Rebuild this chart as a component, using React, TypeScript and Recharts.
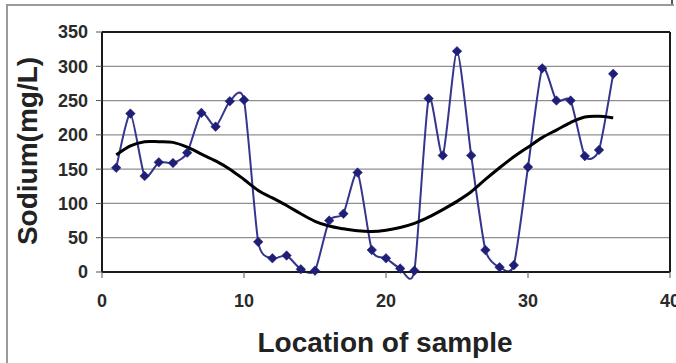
import React from "react";
import {
  LineChart,
  Line,
  XAxis,
  YAxis,
  CartesianGrid,
  ReferenceLine,
} from "recharts";

const locations = [
  1, 2, 3, 4, 5, 6, 7, 8, 9, 10, 11, 12, 13, 14, 15, 16, 17, 18, 19, 20, 21, 22,
  23, 24, 25, 26, 27, 28, 29, 30, 31, 32, 33, 34, 35, 36,
];
const sodium = [
  152, 231, 140, 160, 159, 174, 232, 212, 249, 251, 44, 20, 24, 4, 2, 75, 85,
  145, 32, 20, 5, 2, 253, 170, 322, 170, 32, 7, 10, 153, 297, 250, 250, 169,
  178, 289,
];
const trend = [
  171, 184, 190, 190, 189, 182, 172, 162, 150, 135, 119, 108, 97, 85, 74, 67,
  63, 60, 59, 61, 65, 71, 80, 91, 103, 117, 135, 152, 168, 182, 196, 207, 218,
  226, 227, 225,
];
const xTicks = [0, 10, 20, 30, 40];
const yTicks = [0, 50, 100, 150, 200, 250, 300, 350];

const data = locations.map((x, i) => ({ x, sodium: sodium[i], trend: trend[i] }));

// Excel-like smoothed line (reduced-tension Catmull-Rom as cubic Bezier)
const makeSmooth = (k: number): any => (context: any) => {
  let pts: number[][] = [];
  return {
    areaStart() {},
    areaEnd() {},
    lineStart() {
      pts = [];
    },
    point(x: number, y: number) {
      pts.push([+x, +y]);
    },
    lineEnd() {
      if (!pts.length) return;
      context.moveTo(pts[0][0], pts[0][1]);
      for (let i = 0; i < pts.length - 1; i++) {
        const p0 = pts[i - 1] || pts[i];
        const p1 = pts[i];
        const p2 = pts[i + 1];
        const p3 = pts[i + 2] || p2;
        const c1x = p1[0] + (p2[0] - p0[0]) * k;
        const c1y = p1[1] + (p2[1] - p0[1]) * k;
        const c2x = p2[0] - (p3[0] - p1[0]) * k;
        const c2y = p2[1] - (p3[1] - p1[1]) * k;
        context.bezierCurveTo(c1x, c1y, c2x, c2y, p2[0], p2[1]);
      }
    },
  };
};
const dataCurve = makeSmooth(1 / 9);
const trendCurve = makeSmooth(1 / 6);

const Diamond = (props: any) => {
  const { cx, cy } = props;
  if (cx == null || cy == null) return null;
  const r = 4.8;
  return (
    <polygon
      points={`${cx},${cy - r} ${cx + r},${cy} ${cx},${cy + r} ${cx - r},${cy}`}
      fill="#1f1f78"
      stroke="#1f1f78"
      strokeWidth={0.5}
    />
  );
};

const tickStyle = {
  fontFamily: "'Liberation Sans', Arial, sans-serif",
  fontWeight: 700,
  fontSize: 18,
  fill: "#2a2a2a",
};

export default function App() {
  return (
    <div
      style={{
        position: "fixed",
        left: 0,
        top: 0,
        width: 676,
        height: 363,
        overflow: "hidden",
        background: "#fff",
      }}
    >
      <div
        style={{
          position: "absolute",
          left: 6,
          top: 4,
          width: 666,
          height: 400,
          borderLeft: "2px solid #9a9a9a",
          borderTop: "2px solid #9a9a9a",
        }}
      />
      <div
        style={{
          position: "absolute",
          left: 671,
          top: 0,
          width: 1.5,
          height: 4,
          background: "#555",
        }}
      />
      <div style={{ position: "absolute", left: 0, top: 0 }}>
        <LineChart
          width={676}
          height={363}
          data={data}
          margin={{ top: 32, right: 6, left: 0, bottom: 0 }}
        >
          <CartesianGrid
            vertical={false}
            stroke="#8f8f8f"
            strokeWidth={1.3}
          />
          <XAxis
            dataKey="x"
            type="number"
            domain={[0, 40]}
            ticks={xTicks}
            height={91}
            axisLine={{ stroke: "#1a1a1a", strokeWidth: 2 }}
            tickLine={{ stroke: "#555", strokeWidth: 1 }}
            tickSize={6}
            tickMargin={16}
            tick={tickStyle}
            interval={0}
            allowDecimals={false}
            label={{
              content: () => (
                <text
                  x={385}
                  y={352}
                  textAnchor="middle"
                  fontFamily="'Liberation Sans', Arial, sans-serif"
                  fontWeight={700}
                  fontSize={28}
                  fill="#222"
                >
                  Location of sample
                </text>
              ),
            }}
          />
          <YAxis
            type="number"
            domain={[0, 350]}
            ticks={yTicks}
            width={102}
            axisLine={{ stroke: "#1a1a1a", strokeWidth: 2 }}
            tickLine={{ stroke: "#555", strokeWidth: 1 }}
            tickSize={6}
            tickMargin={8}
            tick={tickStyle}
            interval={0}
            label={{
              content: () => (
                <text
                  x={37}
                  y={151}
                  transform="rotate(-90 37 151)"
                  textAnchor="middle"
                  fontFamily="'Liberation Sans', Arial, sans-serif"
                  fontWeight={700}
                  fontSize={28}
                  fill="#222"
                >
                  Sodium(mg/L)
                </text>
              ),
            }}
          />
          <ReferenceLine y={350} stroke="#1a1a1a" strokeWidth={2} />
          <ReferenceLine x={40} stroke="#1a1a1a" strokeWidth={2} />
          <Line
            dataKey="sodium"
            type={dataCurve}
            stroke="#35358f"
            strokeWidth={2}
            dot={<Diamond />}
            activeDot={false}
            isAnimationActive={false}
          />
          <Line
            dataKey="trend"
            type={trendCurve}
            stroke="#000"
            strokeWidth={3}
            dot={false}
            activeDot={false}
            isAnimationActive={false}
          />
        </LineChart>
      </div>
    </div>
  );
}
